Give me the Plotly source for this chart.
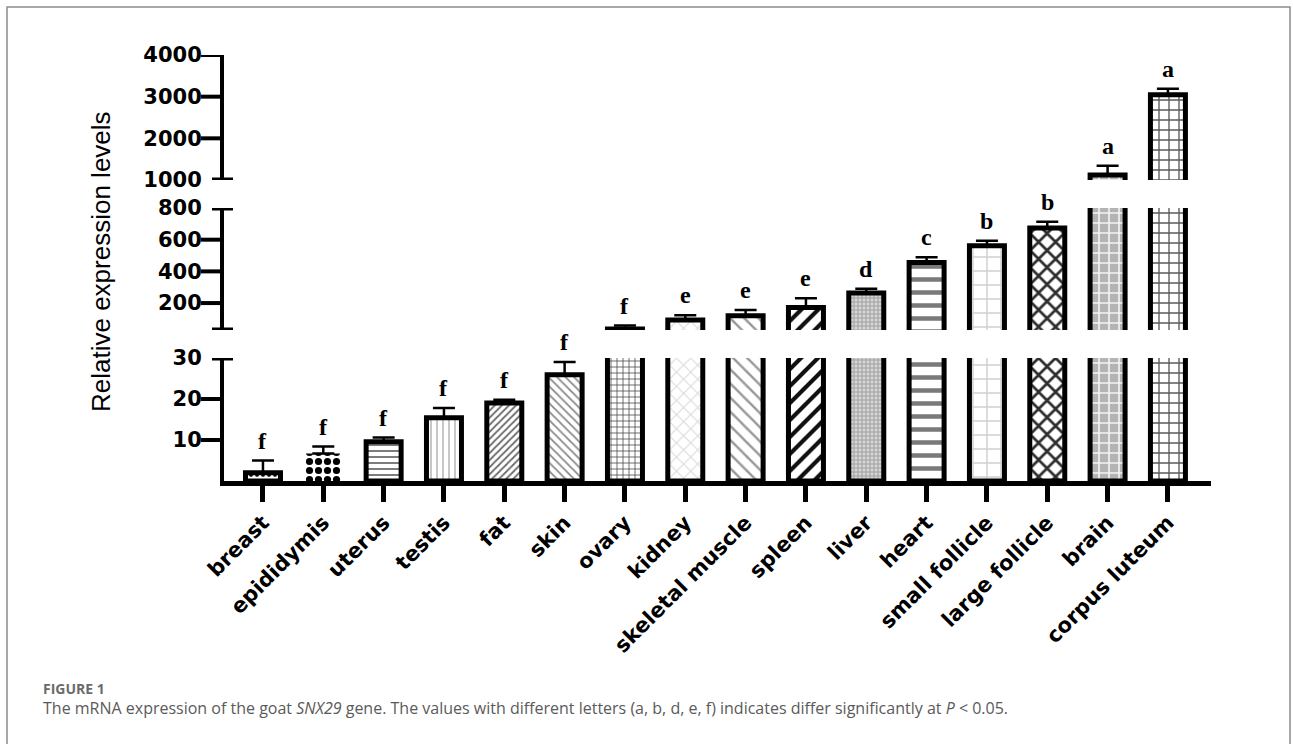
import plotly.graph_objects as go

# Relative SNX29 mRNA expression across goat tissues (mean and SEM)
tissues = ["breast", "epididymis", "uterus", "testis", "fat", "skin", "ovary",
           "kidney", "skeletal muscle", "spleen", "liver", "heart",
           "small follicle", "large follicle", "brain", "corpus luteum"]
expression = [2.0, 6.7, 9.6, 15.4, 19.0, 25.9, 36, 93, 120, 172, 264, 456,
              562, 674, 1120, 3045]
sem = [3.0, 1.7, 1.0, 2.4, 0.8, 3.1, 22, 30, 36, 58, 27, 33, 32, 40, 223, 146]
letters = ["f", "f", "f", "f", "f", "f", "f", "e", "e", "e", "d", "c",
           "b", "b", "a", "a"]

# Broken y axis: three stacked segments
seg_ranges = [(0, 30), (30, 800), (1000, 4000)]
seg_ticks = [[10, 20, 30], [200, 400, 600, 800], [1000, 2000, 3000, 4000]]

# Fill patterns for each tissue bar
pat_shape = [".", ".", "-", "|", "/", "\\", "+", "x", "\\", "/", "+", "-",
             "+", "x", "+", "+"]
pat_fg = ["#000000", "#000000", "#6e6e6e", "#b5b5b5", "#6a6a6a", "#8a8a8a",
          "#4a4a4a", "#dadada", "#9a9a9a", "#111111", "#a0a0a0", "#7a7a7a",
          "#d0d0d0", "#2e2e2e", "#f4f4f4", "#5a5a5a"]
pat_bg = ["#ffffff", "#ffffff", "#ffffff", "#ffffff", "#ffffff", "#ffffff",
          "#ffffff", "#ffffff", "#ffffff", "#ffffff", "#d6d6d6", "#ffffff",
          "#ffffff", "#ffffff", "#b4b4b4", "#ffffff"]
pat_size = [6, 9, 6, 6, 5, 6, 6, 10, 10, 12, 4, 13, 14, 12, 10, 10]
pat_solid = [0.3, 0.5, 0.3, 0.25, 0.35, 0.3, 0.25, 0.2, 0.25, 0.35, 0.45,
             0.35, 0.2, 0.4, 0.3, 0.25]
outline_w = [5, 0, 5, 5, 5, 5, 5, 5, 5, 5, 5, 5, 5, 5, 5, 5]

W, H = 1293, 744
L, R, T, B = 224, 82, 55, 263
PW, PH = W - L - R, H - T - B
Y0 = H - B  # pixel row of the plot bottom


def px_x(px):
    return (px - L) / PW


def px_y(py):
    return (Y0 - py) / PH


seg_domains = [[0, px_y(358)], [px_y(330), px_y(208)], [px_y(180), 1.0]]
yrefs = ["y", "y2", "y3"]
ynames = ["yaxis", "yaxis2", "yaxis3"]

fig = go.Figure()

for k, yr in enumerate(yrefs):
    lo = seg_ranges[k][0]
    # only bars that actually reach into this segment are drawn there
    seg_vals = [v if v > lo else None for v in expression]
    fig.add_trace(go.Bar(
        x=list(range(len(tissues))), y=seg_vals, yaxis=yr, xaxis="x",
        width=0.58,
        marker=dict(
            color="white",
            line=dict(color="black", width=outline_w),
            pattern=dict(shape=pat_shape, fgcolor=pat_fg, bgcolor=pat_bg,
                         size=pat_size, solidity=pat_solid,
                         fillmode="replace", fgopacity=1),
        ),
        error_y=dict(type="data", array=sem,
                     arrayminus=[0] * len(sem), symmetric=False,
                     color="black", thickness=2.5, width=11),
        showlegend=False, hoverinfo="skip",
    ))

tick_font = dict(family="DejaVu Sans", size=21, color="black", weight="bold")

layout = dict(
    width=W, height=H,
    margin=dict(l=L, r=R, t=T, b=B, pad=0),
    paper_bgcolor="white", plot_bgcolor="white",
    xaxis=dict(
        domain=[0, 1], range=[-0.646, 15.714], anchor="y",
        tickmode="array", tickvals=list(range(len(tissues))), ticktext=tissues,
        tickangle=-45, tickfont=tick_font,
        showline=True, linewidth=5, linecolor="black",
        ticks="outside", ticklen=16, tickwidth=5, tickcolor="black",
        showgrid=False, zeroline=False,
    ),
    shapes=[], annotations=[],
)

for k, name in enumerate(ynames):
    lo, hi = seg_ranges[k]
    layout[name] = dict(
        domain=seg_domains[k], range=[lo, hi], anchor="x",
        tickmode="array", tickvals=seg_ticks[k],
        ticktext=[str(v) for v in seg_ticks[k]],
        tickfont=tick_font,
        ticks="outside", ticklen=14, tickwidth=4, tickcolor="rgba(0,0,0,0)",
        showline=True, linewidth=4, linecolor="black",
        showgrid=False, zeroline=False,
    )

shapes = []
# tick marks and break caps on the segmented y axis
for k, yr in enumerate(yrefs):
    lo, hi = seg_ranges[k]
    caps = set()
    if k > 0:
        caps.add(lo)
    if k < len(yrefs) - 1:
        caps.add(hi)
    for v in sorted(set(seg_ticks[k]) | caps):
        if v in caps:
            xa, xb, lw = -12, 9, 5
        else:
            xa, xb, lw = -23, -2, 4
        shapes.append(dict(type="line", xref="paper", yref=yr,
                           xsizemode="pixel", xanchor=0, x0=xa, x1=xb,
                           y0=v, y1=v, line=dict(color="black", width=lw)))

# figure frame
shapes.append(dict(type="rect", xref="paper", yref="paper",
                   x0=px_x(7), x1=px_x(1290), y0=px_y(770), y1=px_y(7),
                   line=dict(color="#8c8c8c", width=1.5)))
layout["shapes"] = shapes

ann = []
# significance letters above each error bar
for i, (v, e, lt) in enumerate(zip(expression, sem, letters)):
    top = v + e
    k = 0 if top <= seg_ranges[0][1] else (1 if top <= seg_ranges[1][1] else 2)
    ann.append(dict(x=i, y=top, xref="x", yref=yrefs[k], text=lt,
                    showarrow=False, xanchor="center", yanchor="bottom",
                    yshift=5,
                    font=dict(family="Liberation Serif", size=24,
                              color="black", weight="bold")))

ann.append(dict(x=px_x(101), y=px_y(262), xref="paper", yref="paper",
                text="Relative expression levels", textangle=-90,
                showarrow=False, xanchor="center", yanchor="middle",
                font=dict(family="Liberation Sans", size=26, color="black")))

ann.append(dict(x=px_x(41), y=px_y(688), xref="paper", yref="paper",
                text="FIGURE 1", showarrow=False, xanchor="left",
                yanchor="middle",
                font=dict(family="Open Sans", size=14, color="#6b6b6b",
                          weight="bold")))
ann.append(dict(x=px_x(41), y=px_y(708), xref="paper", yref="paper",
                text="The mRNA expression of the goat <i>SNX29</i> gene. "
                     "The values with different letters (a, b, d, e, f) "
                     "indicates differ significantly at <i>P</i> &lt; 0.05.",
                showarrow=False, xanchor="left", yanchor="middle",
                font=dict(family="Open Sans", size=16, color="#5a5a5a")))
layout["annotations"] = ann

fig.update_layout(**layout)
fig.write_html("out.html")
